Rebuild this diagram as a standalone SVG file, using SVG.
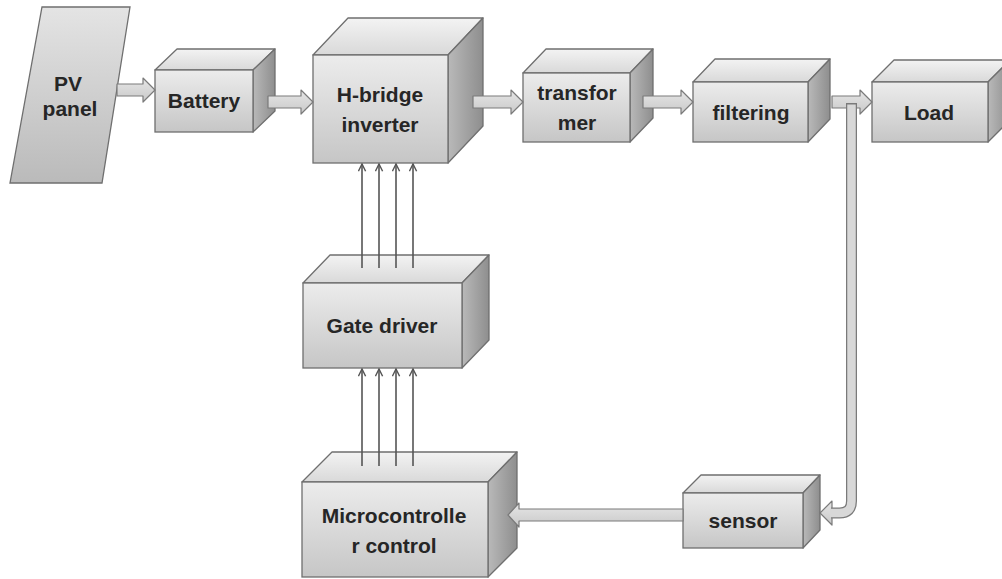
<svg xmlns="http://www.w3.org/2000/svg" width="1002" height="579" viewBox="0 0 1002 579">
  <defs>
    <linearGradient id="gFront" x1="0" y1="0" x2="0" y2="1">
      <stop offset="0" stop-color="#ececec"/>
      <stop offset="1" stop-color="#c6c6c6"/>
    </linearGradient>
    <linearGradient id="gTop" x1="0" y1="0" x2="0" y2="1">
      <stop offset="0" stop-color="#f3f3f3"/>
      <stop offset="1" stop-color="#d9d9d9"/>
    </linearGradient>
    <linearGradient id="gSide" x1="0" y1="0" x2="1" y2="0">
      <stop offset="0" stop-color="#b9b9b9"/>
      <stop offset="1" stop-color="#8e8e8e"/>
    </linearGradient>
    <linearGradient id="gPanel" x1="0" y1="0" x2="0" y2="1">
      <stop offset="0" stop-color="#e4e4e4"/>
      <stop offset="1" stop-color="#bababa"/>
    </linearGradient>
    <linearGradient id="gPipe" x1="0" y1="0" x2="0" y2="1">
      <stop offset="0" stop-color="#e6e6e6"/>
      <stop offset="1" stop-color="#c9c9c9"/>
    </linearGradient>
    <marker id="chev" viewBox="0 0 10 10" refX="9" refY="5" markerWidth="9" markerHeight="9" markerUnits="userSpaceOnUse" orient="auto">
      <path d="M1,1 L9,5 L1,9" fill="none" stroke="#555" stroke-width="1.6"/>
    </marker>
  </defs>
  <style>
    .front { fill: url(#gFront); stroke: #6f6f6f; stroke-width: 1.3; }
    .top { fill: url(#gTop); stroke: #6f6f6f; stroke-width: 1.3; stroke-linejoin: round; }
    .side { fill: url(#gSide); stroke: #6f6f6f; stroke-width: 1.3; stroke-linejoin: round; }
    .panel { fill: url(#gPanel); stroke: #6f6f6f; stroke-width: 1.3; }
    .fat { fill: url(#gPipe); stroke: #7a7a7a; stroke-width: 1.2; stroke-linejoin: round; }
    .sig { fill: none; stroke: #555; stroke-width: 1.6; marker-end: url(#chev); }
    .lbl { font-family: "Liberation Sans", Arial, sans-serif; font-weight: bold; font-size: 21px; fill: #262626; text-anchor: middle; }
  </style>
  <rect width="1002" height="579" fill="#ffffff"/>

  <!-- PV panel -->
  <g id="pv-panel">
    <polygon class="panel" points="42,7 130,7 102,183 10,183"/>
    <text class="lbl" x="68" y="91" font-size="19">PV</text>
    <text class="lbl" x="70" y="116" font-size="19">panel</text>
  </g>

  <!-- Battery -->
  <g id="battery">
    <polygon class="top" points="155,70 177,49 275,49 253,70"/>
    <polygon class="side" points="253,70 275,49 275,111 253,132"/>
    <rect class="front" x="155" y="70" width="98" height="62"/>
    <text class="lbl" x="204" y="108">Battery</text>
  </g>

  <!-- H-bridge inverter -->
  <g id="h-bridge">
    <polygon class="top" points="313,55 348,18 483,18 448,55"/>
    <polygon class="side" points="448,55 483,18 483,126 448,163"/>
    <rect class="front" x="313" y="55" width="135" height="108"/>
    <text class="lbl" x="380" y="102">H-bridge</text>
    <text class="lbl" x="380" y="132">inverter</text>
  </g>

  <!-- Transformer -->
  <g id="transformer">
    <polygon class="top" points="523,73 546,49 653,49 630,73"/>
    <polygon class="side" points="630,73 653,49 653,118 630,142"/>
    <rect class="front" x="523" y="73" width="107" height="69"/>
    <text class="lbl" x="577" y="100">transfor</text>
    <text class="lbl" x="577" y="130">mer</text>
  </g>

  <!-- Filtering -->
  <g id="filtering">
    <polygon class="top" points="693,82 715,59 830,59 808,82"/>
    <polygon class="side" points="808,82 830,59 830,119 808,142"/>
    <rect class="front" x="693" y="82" width="115" height="60"/>
    <text class="lbl" x="751" y="120">filtering</text>
  </g>

  <!-- Load -->
  <g id="load">
    <polygon class="top" points="872,82 894,60 1010,60 988,82"/>
    <polygon class="side" points="988,82 1010,60 1010,120 988,142"/>
    <rect class="front" x="872" y="82" width="116" height="60"/>
    <text class="lbl" x="929" y="120">Load</text>
  </g>

  <!-- Gate driver -->
  <g id="gate-driver">
    <polygon class="top" points="303,283 330,255 489,255 462,283"/>
    <polygon class="side" points="462,283 489,255 489,340 462,368"/>
    <rect class="front" x="303" y="283" width="159" height="85"/>
    <text class="lbl" x="382" y="333">Gate driver</text>
  </g>

  <!-- Microcontroller control -->
  <g id="microcontroller">
    <polygon class="top" points="302,482 332,452 517,452 488,482"/>
    <polygon class="side" points="488,482 517,452 517,548 488,577"/>
    <rect class="front" x="302" y="482" width="186" height="95"/>
    <text class="lbl" x="394" y="523">Microcontrolle</text>
    <text class="lbl" x="394" y="553">r control</text>
  </g>

  <!-- Sensor -->
  <g id="sensor">
    <polygon class="top" points="683,493 701,475 820,475 803,493"/>
    <polygon class="side" points="803,493 820,475 820,530 803,548"/>
    <rect class="front" x="683" y="493" width="120" height="55"/>
    <text class="lbl" x="743" y="528">sensor</text>
  </g>

  <!-- connectors, drawn over the block faces -->
  <g id="connectors">
    <!-- power path -->
    <polygon class="fat" points="117,84 143,84 143,78 155,90 143,102 143,96 117,96"/>
    <polygon class="fat" points="268,96 301,96 301,90 313,102 301,114 301,108 268,108"/>
    <polygon class="fat" points="473,96 511,96 511,90 523,102 511,114 511,108 473,108"/>
    <polygon class="fat" points="643,96 681,96 681,90 693,102 681,114 681,108 643,108"/>
    <polygon class="fat" points="832,96 860,96 860,90 872,102 860,114 860,108 832,108"/>
    <!-- feedback pipe from load line down to sensor -->
    <polygon class="fat" points="832,501 820,513 832,525"/>
    <path d="M851.5,103 V501 Q851.5,513 839.5,513 H831" fill="none" stroke="#7a7a7a" stroke-width="11"/>
    <path d="M851.5,104.5 V501 Q851.5,513 839.5,513 H830" fill="none" stroke="#d8d8d8" stroke-width="8.5"/>
    <!-- sensor to microcontroller -->
    <polygon class="fat" points="683,509 519,509 519,503 508,515 519,527 519,521 683,521"/>
    <!-- gate signals: driver to bridge -->
    <line class="sig" x1="362" y1="268" x2="362" y2="164"/>
    <line class="sig" x1="379" y1="268" x2="379" y2="164"/>
    <line class="sig" x1="396" y1="268" x2="396" y2="164"/>
    <line class="sig" x1="413" y1="268" x2="413" y2="164"/>
    <!-- control signals: microcontroller to driver -->
    <line class="sig" x1="362" y1="466" x2="362" y2="369"/>
    <line class="sig" x1="379" y1="466" x2="379" y2="369"/>
    <line class="sig" x1="396" y1="466" x2="396" y2="369"/>
    <line class="sig" x1="413" y1="466" x2="413" y2="369"/>
  </g>
</svg>
